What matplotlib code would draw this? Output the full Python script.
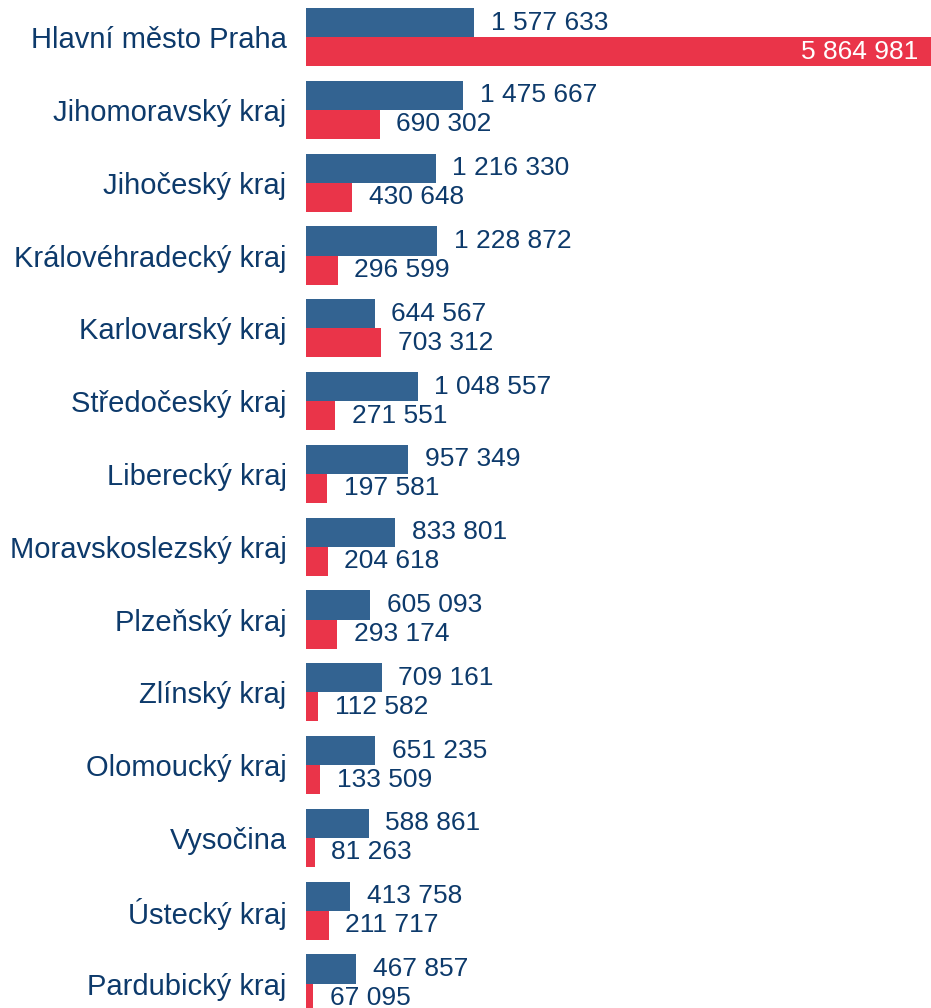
import numpy as np
import matplotlib.pyplot as plt

plt.rcParams['font.family'] = ['Liberation Sans', 'DejaVu Sans']

regions = ['Hlavní město Praha', 'Jihomoravský kraj', 'Jihočeský kraj',
           'Královéhradecký kraj', 'Karlovarský kraj', 'Středočeský kraj',
           'Liberecký kraj', 'Moravskoslezský kraj', 'Plzeňský kraj',
           'Zlínský kraj', 'Olomoucký kraj', 'Vysočina', 'Ústecký kraj',
           'Pardubický kraj']
blue_vals = [1577633, 1475667, 1216330, 1228872, 644567, 1048557, 957349,
             833801, 605093, 709161, 651235, 588861, 413758, 467857]
red_vals = [5864981, 690302, 430648, 296599, 703312, 271551, 197581,
            204618, 293174, 112582, 133509, 81263, 211717, 67095]

blue_col = '#336391'
red_col = '#ea3449'
text_col = '#0d3a6b'

def fmt(v):
    return f'{v:,}'.replace(',', ' ')

fig = plt.figure(figsize=(9.31, 10.08), dpi=100)
ax = fig.add_axes([306 / 931, 0, 625 / 931, 1])

y = np.arange(len(regions))
h = 0.4
ax.barh(y - h / 2, blue_vals, height=h, color=blue_col)
ax.barh(y + h / 2, red_vals, height=h, color=red_col)

xmax = max(red_vals)
for i in range(len(regions)):
    ax.annotate(fmt(blue_vals[i]), (blue_vals[i], y[i] - h / 2),
                xytext=(12, 0), textcoords='offset points',
                va='center', ha='left', fontsize=19, color=text_col)
    if red_vals[i] > 0.8 * xmax:
        ax.annotate(fmt(red_vals[i]), (red_vals[i], y[i] + h / 2),
                    xytext=(-9, 0), textcoords='offset points',
                    va='center', ha='right', fontsize=19, color='white')
    else:
        ax.annotate(fmt(red_vals[i]), (red_vals[i], y[i] + h / 2),
                    xytext=(12, 0), textcoords='offset points',
                    va='center', ha='left', fontsize=19, color=text_col)

ax.set_xlim(0, xmax)
ax.set_ylim(13.336, -0.51)
ax.set_yticks(y)
ax.set_yticklabels(regions, fontsize=21, color=text_col)
ax.tick_params(axis='y', length=0, pad=14)
ax.set_xticks([])
for s in ax.spines.values():
    s.set_visible(False)

fig.savefig('out.png', dpi=100)
